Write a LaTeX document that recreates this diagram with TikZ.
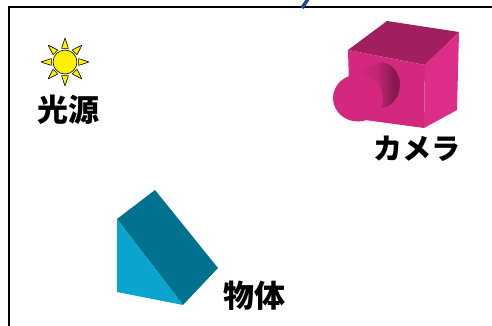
\documentclass[tikz,border=0pt]{standalone}
\usepackage{fontspec}
\usetikzlibrary{calc}
\newfontfamily\jpfont{Noto Sans CJK JP}[BoldFont={Noto Sans CJK JP Black}]
\definecolor{camtop}{HTML}{A11F5E}
\definecolor{camfront}{HTML}{D4287F}
\definecolor{camside}{HTML}{DC2D88}
\definecolor{camdark}{HTML}{861A4E}
\definecolor{cambright}{HTML}{EA3C98}
\definecolor{prismdark}{HTML}{00728F}
\definecolor{prismlight}{HTML}{0AA5CC}
\definecolor{arrowblue}{HTML}{1D4E89}
% lens barrel: light front, dark band, bright rim at the back
\pgfdeclarehorizontalshading{lensbarrel}{100bp}{
  color(0bp)=(camfront); color(25bp)=(camfront); color(50bp)=(camfront!75!camdark);
  color(68bp)=(camdark); color(78bp)=(camdark); color(92bp)=(cambright); color(100bp)=(cambright)}
\begin{document}
\begin{tikzpicture}[x=1pt,y=-1pt,
  label jp/.style={font=\jpfont\bfseries\fontsize{31}{31}\selectfont, inner sep=0pt},
  frame line/.style={line width=1.6pt, draw=black},
  ray/.style={fill=yellow, draw=black, line width=0.6pt, line join=round}]
\useasboundingbox (0,0) rectangle (492,325);
\begin{scope}
\clip (0,0) rectangle (492,325);
% frame edges
\draw[frame line] (9,340) -- (9,7) -- (500,7);
% piece of an incoming stroke above the frame
\draw[arrowblue, line width=3.5pt] (302,8) -- (310,-4);
\end{scope}

% light source: sun with eight rays
\coordinate (sunc) at (65,62);
\foreach \a in {0,45,...,315}{
  \draw[ray] ($(sunc)+(\a-14:14)$) -- ($(sunc)+(\a:24)$) -- ($(sunc)+(\a+14:14)$) -- cycle;
}
\node[circle, fill=yellow, draw=black, line width=0.6pt, minimum size=24pt, inner sep=0pt] (sun) at (sunc) {};
\node[label jp] (lightlabel) at (68,110) {光源};

% camera: cube body
\fill[camtop] (348,50) -- (387,21) -- (459,32) -- (425,65) -- cycle;
\fill[camfront] (348,50) -- (425,65) -- (424,128) -- (350,118) -- cycle;
\fill[camside] (425,65) -- (459,32) -- (457,110) -- (424,128) -- cycle;
% camera: lens barrel
\shade[shading=lensbarrel]
  (356,75) -- (380,62) arc[start angle=-90, end angle=90, x radius=20, y radius=23] -- (358,121) -- cycle;
\fill[camfront] (358,98) ellipse[x radius=25, y radius=23.5];
\node[label jp, font=\jpfont\bfseries\fontsize{29}{29}\selectfont] (cameralabel) at (417,149) {カメラ};

% object: triangular prism
\fill[prismdark] (117,219) -- (155,190) -- (218,268) -- (183,305) -- cycle;
\fill[prismlight] (117,219) -- (117,292) -- (183,305) -- cycle;
\node[label jp] (objectlabel) at (254,296) {物体};
\end{tikzpicture}
\end{document}
